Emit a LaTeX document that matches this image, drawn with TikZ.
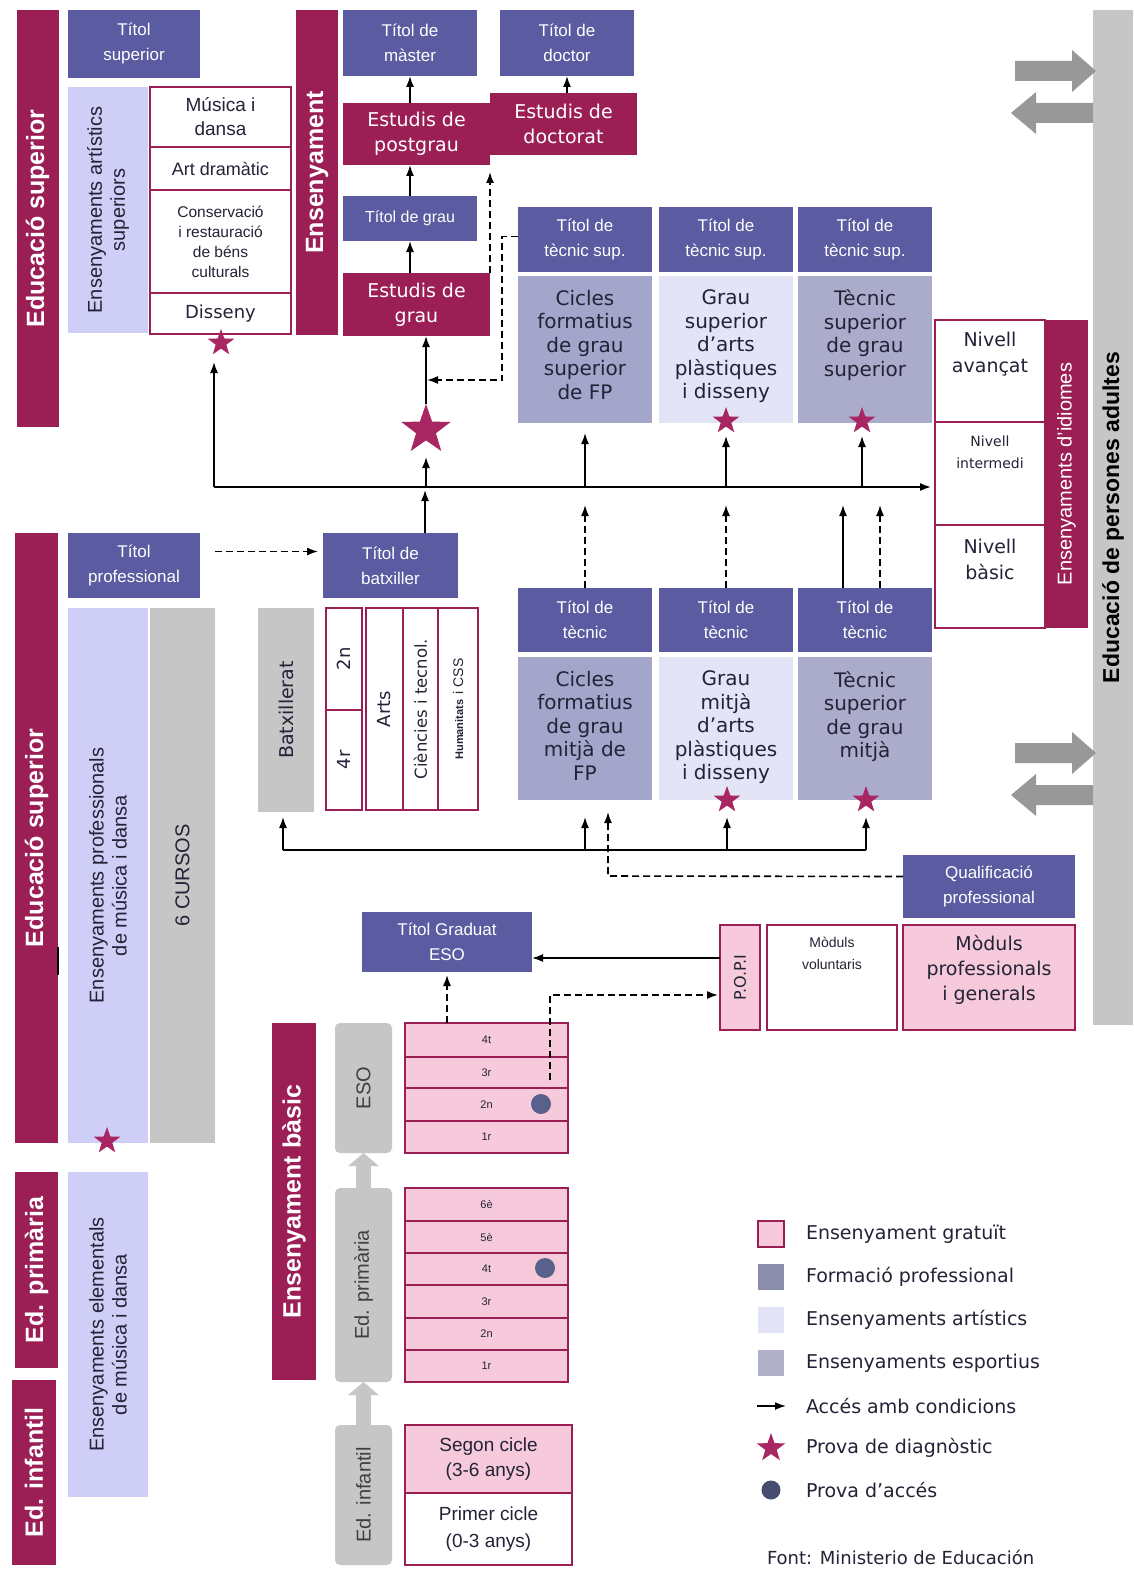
\documentclass[tikz,border=0pt]{standalone}
\usepackage{fontspec}
\setmainfont{Liberation Sans}
\newfontfamily\dvs{DejaVu Sans}
\usetikzlibrary{shapes.geometric,arrows.meta,calc}

\definecolor{mar}{RGB}{155,30,85}
\definecolor{slate}{RGB}{90,91,160}
\definecolor{pinkc}{RGB}{246,202,218}
\definecolor{lavA}{RGB}{206,206,246}
\definecolor{lavB}{RGB}{228,228,247}
\definecolor{fpc}{RGB}{163,165,203}
\definecolor{espc}{RGB}{171,172,203}
\definecolor{fplg}{RGB}{138,142,170}
\definecolor{esplg}{RGB}{176,176,200}
\definecolor{grayc}{RGB}{198,198,198}
\definecolor{darkg}{RGB}{152,152,152}
\definecolor{dotc}{RGB}{88,96,140}
\definecolor{starc}{RGB}{168,38,98}
\definecolor{txtc}{RGB}{35,35,55}

\newcommand\fsz[2]{\fontsize{#1}{#2}\selectfont}

\begin{document}
\begin{tikzpicture}[x=1pt,y=-1pt,
  every node/.style={inner sep=0pt,outer sep=0pt,align=center,text=txtc},
  sz/.style 2 args={minimum width=#1pt,minimum height=#2pt},
  bar/.style={fill=mar,text=white,font=\bfseries\fsz{25}{28}},
  ttl/.style={fill=slate,text=white,font=\fsz{17}{25}},
  wbox/.style={draw=mar,fill=white,line width=1.2pt},
  pbox/.style={draw=mar,fill=pinkc,line width=1.2pt},
  mstud/.style={fill=mar,text=white,font=\dvs\fsz{19}{25}},
  ctext/.style={font=\dvs\fsz{20}{23.5}},
  grade/.style={pbox,font=\fsz{11}{12}},
  gbar/.style={fill=grayc,rounded corners=5pt,font=\fsz{20}{22},text=black!75},
  stmark/.style={star,star points=5,star point ratio=2.5,fill=starc,minimum size=#1pt},
  stmark/.default=28,
  dotmark/.style={circle,fill=dotc,minimum size=20pt},
  arr/.style={-{Latex[length=11pt,width=8pt]},line width=1.6pt},
  darr/.style={arr,dash pattern=on 7pt off 4pt},
  legtext/.style={anchor=west,font=\dvs\fsz{19}{22}},
]
\fill[white] (0,0) rectangle (1133,1573);
\path[use as bounding box] (0,0) rectangle (1133,1573);

% ===== Higher arts education
\node[bar,rotate=90,sz={417}{42}] (edsupA) at (37.5,218.5) {Educació superior};
\node[ttl,sz={132}{68},anchor=north west] (tsup) at (68,10) {Títol\\superior};
\node[fill=lavA,rotate=90,sz={246}{80},font=\fsz{20}{23}] (artsup) at (108,210) {Ensenyaments artístics\\superiors};
\node[wbox,sz={141}{60},anchor=north west,font=\fsz{19}{24}] (musd) at (150,87) {Música i\\dansa};
\node[wbox,sz={141}{43},anchor=north west,font=\fsz{18}{20}] (artd) at (150,147) {Art dramàtic};
\node[wbox,sz={141}{103},anchor=north west,font=\fsz{15.5}{20}] (cons) at (150,190) {Conservació\\i restauració\\de béns\\culturals};
\node[wbox,sz={141}{41},anchor=north west,font=\dvs\fsz{18}{20}] (diss) at (150,293) {Disseny};
\node[stmark] (stdis) at (221,343) {};

% ===== University
\node[bar,rotate=90,sz={325}{42}] (ensu) at (317,172.5) {Ensenyament};
\node[ttl,sz={134}{66},anchor=north west] (tmas) at (343,10) {Títol de\\màster};
\node[ttl,sz={134}{66},anchor=north west] (tdoc) at (500,10) {Títol de\\doctor};
\node[mstud,sz={147}{62},anchor=north west] (epost) at (343,103) {Estudis de\\postgrau};
\node[mstud,sz={147}{62},anchor=north west] (edoc) at (490,93) {Estudis de\\doctorat};
\node[ttl,sz={134}{45},anchor=north west,font=\fsz{16}{18}] (tgrau) at (343,196) {Títol de grau};
\node[mstud,sz={147}{63},anchor=north west] (egrau) at (343,273) {Estudis de\\grau};
\node[stmark=52] (stgrau) at (426,430) {};

\draw[arr] (tmas.south |- epost.north) -- (tmas.south);
\draw[arr] (tdoc.south |- edoc.north) -- (tdoc.south);
\draw[arr] (tgrau.north) -- (tgrau.north |- epost.south);
\draw[arr] (tgrau.south |- egrau.north) -- (tgrau.south);
\draw[darr,shorten >=7pt] (egrau.north east) -- (epost.south east);
\draw[arr] (stgrau.north) -- (stgrau.north |- egrau.south);

% ===== Higher vocational row
\node[ttl,sz={134}{65},anchor=north west] (tts1) at (518,207) {Títol de\\tècnic sup.};
\node[ttl,sz={134}{65},anchor=north west] (tts2) at (659,207) {Títol de\\tècnic sup.};
\node[ttl,sz={134}{65},anchor=north west] (tts3) at (798,207) {Títol de\\tècnic sup.};
\node[fill=fpc,sz={134}{147},anchor=north west] (cfs1) at (518,276) {};
\node[fill=lavB,sz={134}{147},anchor=north west] (cfs2) at (659,276) {};
\node[fill=espc,sz={134}{147},anchor=north west] (cfs3) at (798,276) {};
\node[ctext,anchor=north] (cfs1t) at ($(cfs1.north)+(0,14)$) {Cicles\\formatius\\de grau\\superior\\de FP};
\node[ctext,anchor=north] (cfs2t) at ($(cfs2.north)+(0,14)$) {Grau\\superior\\d’arts\\plàstiques\\i disseny};
\node[ctext,anchor=north] (cfs3t) at ($(cfs3.north)+(0,14)$) {Tècnic\\superior\\de grau\\superior};
\node[stmark] (sts2) at (726,421) {};
\node[stmark] (sts3) at (862,421) {};

\coordinate (dj) at (502,380);
\draw[darr,shorten >=1pt] ($(tts1.west)+(0,-3)$) -| (dj) -- (stgrau |- dj);

% ===== Languages and adult education
\node[wbox,sz={110}{102},anchor=north west] (nava) at (935,320) {};
\node[wbox,sz={110}{103},anchor=north west] (nint) at (935,422) {};
\node[wbox,sz={110}{103},anchor=north west] (nbas) at (935,525) {};
\node[bar,rotate=90,sz={308}{43},font=\fsz{20}{22}] (idio) at (1066.5,474) {Ensenyaments d’idiomes};
\node[font=\dvs\fsz{19}{26}] (navat) at (990,354) {Nivell\\avançat};
\node[font=\dvs\fsz{14}{22}] (nintt) at (990,452) {Nivell\\intermedi};
\node[font=\dvs\fsz{19}{26}] (nbast) at (990,559) {Nivell\\bàsic};
\node[fill=grayc,rotate=90,sz={1015}{40},font=\bfseries\fsz{23}{26},text=black] (adult) at (1113,517.5) {Educació de persones adultes};
\foreach \dy in {0,682}{
  \begin{scope}[shift={(0,\dy)}]
    \fill[darkg] (1015,61) -- (1072,61) -- (1072,50) -- (1096,71) -- (1072,92) -- (1072,81) -- (1015,81) -- cycle;
    \fill[darkg] (1093,103) -- (1036,103) -- (1036,92) -- (1011,113) -- (1036,134) -- (1036,123) -- (1093,123) -- cycle;
  \end{scope}
}

% ===== Upper access line
\coordinate (h0) at (214,487);
\coordinate (hd) at (214,362);
\draw[arr,shorten >=4pt] (h0) -- (nint.west |- h0);
\draw[arr] (h0) -- (hd);
\draw[arr] (stgrau |- h0) -- ($(stgrau)+(0,27)$);
\draw[arr,shorten >=10pt] (cfs1.south |- h0) -- (cfs1.south);
\draw[arr] (sts2 |- h0) -- ($(sts2)+(0,15)$);
\draw[arr] (sts3 |- h0) -- ($(sts3)+(0,15)$);

% ===== Middle vocational row
\node[ttl,sz={134}{64},anchor=north west] (tt1) at (518,588) {Títol de\\tècnic};
\node[ttl,sz={134}{64},anchor=north west] (tt2) at (659,588) {Títol de\\tècnic};
\node[ttl,sz={134}{64},anchor=north west] (tt3) at (798,588) {Títol de\\tècnic};
\node[fill=fpc,sz={134}{143},anchor=north west] (cm1) at (518,657) {};
\node[fill=lavB,sz={134}{143},anchor=north west] (cm2) at (659,657) {};
\node[fill=espc,sz={134}{143},anchor=north west] (cm3) at (798,657) {};
\node[ctext,anchor=north] (cm1t) at ($(cm1.north)+(0,14)$) {Cicles\\formatius\\de grau\\mitjà de\\FP};
\node[ctext,anchor=north] (cm2t) at ($(cm2.north)+(0,14)$) {Grau\\mitjà\\d’arts\\plàstiques\\i disseny};
\node[ctext,anchor=north] (cm3t) at ($(cm3.north)+(0,14)$) {Tècnic\\superior\\de grau\\mitjà};
\node[stmark] (stm2) at (727,800) {};
\node[stmark] (stm3) at (866,800) {};

\coordinate (t3a) at ($(tt3.north)+(-22,0)$);
\coordinate (t3b) at ($(tt3.north)+(15,0)$);
\draw[darr,shorten >=18pt] (tt1.north) -- (tt1.north |- h0);
\draw[darr,shorten >=18pt] (tt2.north) -- (tt2.north |- h0);
\draw[arr,shorten >=18pt] (t3a) -- (t3a |- h0);
\draw[darr,shorten >=18pt] (t3b) -- (t3b |- h0);

% ===== Secondary: batxillerat and music
\node[bar,rotate=90,sz={610}{43}] (edsupB) at (36.5,838) {Educació superior};
\draw[line width=1.5pt] (58,947) -- (58,975);
\node[ttl,sz={132}{65},anchor=north west] (tprof) at (68,533) {Títol\\professional};
\node[ttl,sz={135}{65},anchor=north west] (tbat) at (323,533) {Títol de\\batxiller};
\draw[darr] ($(tprof.east)+(15,-14)$) -- ($(tbat.west)+(-5,-14)$);
\coordinate (bq) at ($(tbat.north west)+(102,0)$);
\draw[arr,shorten >=3pt] (bq) -- (bq |- h0);
\node[fill=lavA,rotate=90,sz={535}{80},font=\fsz{20}{23}] (profmd) at (108,875.5) {Ensenyaments professionals\\de música i dansa};
\node[fill=grayc,rotate=90,sz={535}{65},font=\fsz{20}{22}] (cursos) at (182.5,875.5) {6 CURSOS};
\node[stmark] (stmd) at (107,1141) {};
\node[fill=grayc,rotate=90,sz={204}{56},font=\dvs\fsz{19}{22}] (batx) at (286,710) {Batxillerat};
\node[wbox,rotate=90,sz={102}{36},font=\dvs\fsz{18}{20}] (b2n) at (344,659) {2n};
\node[wbox,rotate=90,sz={100}{36},font=\dvs\fsz{18}{20}] (b4r) at (344,760) {4r};
\node[wbox,rotate=90,sz={202}{37},font=\dvs\fsz{18}{20}] (barts) at (384.5,709) {Arts};
\node[wbox,rotate=90,sz={202}{35},font=\dvs\fsz{16.5}{20}] (bcien) at (420.5,709) {Ciències i tecnol.};
\node[wbox,rotate=90,sz={202}{40}] (bhum) at (458,709) {{\bfseries\fsz{11}{14}Humanitats}\ \ {\fsz{14}{16}i CSS}};

% ===== Lower access line
\coordinate (h1) at (283,850);
\coordinate (h1e) at (866,850);
\draw[line width=1.6pt] (h1) -- (h1e);
\draw[arr,shorten >=5pt] (h1) -- (h1 |- batx.west);
\draw[arr,shorten >=17pt] (cm1.south |- h1) -- (cm1.south);
\draw[arr] (stm2 |- h1) -- ($(stm2)+(0,17)$);
\draw[arr] (h1e) -- ($(stm3)+(0,17)$);

% ===== Qualification and POPI
\node[ttl,sz={170}{60},anchor=north west] (tgeso) at (362,912) {Títol Graduat\\ESO};
\node[pbox,rotate=90,sz={105}{40},font=\dvs\fsz{16}{18}] (popi) at (740,977.5) {P.O.P.I};
\node[wbox,sz={130}{105},anchor=north west] (modv) at (767,925) {};
\node[font=\fsz{14}{22},anchor=north] (modvt) at ($(modv.north)+(0,12)$) {Mòduls\\voluntaris};
\node[pbox,sz={172}{105},anchor=north west] (modp) at (903,925) {};
\node[font=\dvs\fsz{19}{25}] (modpt) at ($(modp.center)+(0,-8)$) {Mòduls\\professionals\\i generals};
\node[ttl,sz={172}{63},anchor=north west] (qual) at (903,855) {Qualificació\\professional};
\coordinate (qj) at (608,876);
\draw[darr,shorten >=12pt] ($(qual.west)+(0,-10)$) -- (qj) -- (qj |- cm1.south);
\coordinate (pa) at (720,958);
\draw[arr] (pa) -- (tgeso.east |- pa);

% ===== Basic education
\node[bar,rotate=90,sz={357}{44}] (ebas) at (294,1201.5) {Ensenyament bàsic};
\node[gbar,rotate=90,sz={130}{57}] (geso) at (363.5,1088) {ESO};
\node[gbar,rotate=90,sz={194}{57}] (gprim) at (363.5,1285) {Ed. primària};
\node[gbar,rotate=90,sz={140}{57}] (ginf) at (363.5,1495) {Ed. infantil};
\draw[line width=15pt,draw=grayc,-{Triangle[length=13pt,width=30pt]}] (gprim.east) -- (geso.west);
\draw[line width=15pt,draw=grayc,-{Triangle[length=13pt,width=30pt]}] (ginf.east) -- (gprim.west);

\node[grade,sz={163}{34},anchor=north west] (e4) at (405,1023) {4t};
\node[grade,sz={163}{31},anchor=north west] (e3) at (405,1057) {3r};
\node[grade,sz={163}{33},anchor=north west] (e2) at (405,1088) {2n};
\node[grade,sz={163}{32},anchor=north west] (e1) at (405,1121) {1r};
\node[dotmark] (dot1) at (541,1104) {};
\coordinate (ea) at (447,1023);
\draw[darr,shorten >=3pt] (ea) -- (ea |- tgeso.south);
\coordinate (eb) at (550,1080);
\coordinate (ec) at (550,995);
\draw[darr,shorten >=2pt] (eb) -- (ec) -- (popi.north |- ec);

\node[grade,sz={163}{33},anchor=north west] (p6) at (405,1188) {6è};
\node[grade,sz={163}{32},anchor=north west] (p5) at (405,1221) {5è};
\node[grade,sz={163}{32},anchor=north west] (p4) at (405,1253) {4t};
\node[grade,sz={163}{33},anchor=north west] (p3) at (405,1285) {3r};
\node[grade,sz={163}{32},anchor=north west] (p2) at (405,1318) {2n};
\node[grade,sz={163}{32},anchor=north west] (p1) at (405,1350) {1r};
\node[dotmark] (dot2) at (545,1268) {};

\node[pbox,sz={167}{68},anchor=north west,font=\fsz{19}{25}] (segc) at (405,1425) {Segon cicle\\(3-6 anys)};
\node[wbox,sz={167}{72},anchor=north west,font=\fsz{19}{27}] (primc) at (405,1493) {Primer cicle\\(0-3 anys)};

% ===== Elementary music and early years
\node[bar,rotate=90,sz={196}{43}] (edprim) at (36.5,1270) {Ed. primària};
\node[bar,rotate=90,sz={185}{44}] (edinf) at (34,1472.5) {Ed. infantil};
\node[fill=lavA,rotate=90,sz={325}{80},font=\fsz{20}{23}] (elem) at (108,1334.5) {Ensenyaments elementals\\de música i dansa};

% ===== Legend
\node[pbox,sz={26}{26}] (lg1) at (771,1234) {};
\node[fill=fplg,sz={26}{26}] (lg2) at (771,1277) {};
\node[fill=lavB,sz={26}{26}] (lg3) at (771,1320) {};
\node[fill=esplg,sz={26}{26}] (lg4) at (771,1363) {};
\coordinate (lga) at (757,1406);
\coordinate (lgb) at (786,1406);
\draw[arr] (lga) -- (lgb);
\node[stmark=30] (lg6) at (771,1448) {};
\node[dotmark,fill=dotc!80!black,minimum size=19pt] (lg7) at (771,1490) {};
\node[legtext] (lt1) at (806,1234) {Ensenyament gratuït};
\node[legtext] (lt2) at (806,1277) {Formació professional};
\node[legtext] (lt3) at (806,1320) {Ensenyaments artístics};
\node[legtext] (lt4) at (806,1363) {Ensenyaments esportius};
\node[legtext] (lt5) at (806,1406) {Accés amb condicions};
\node[legtext] (lt6) at (806,1448) {Prova de diagnòstic};
\node[legtext] (lt7) at (806,1490) {Prova d’accés};
\node[anchor=west,font=\dvs\fsz{18}{20}] (src) at (767,1557) {Font: Ministerio de Educación};
\end{tikzpicture}
\end{document}
